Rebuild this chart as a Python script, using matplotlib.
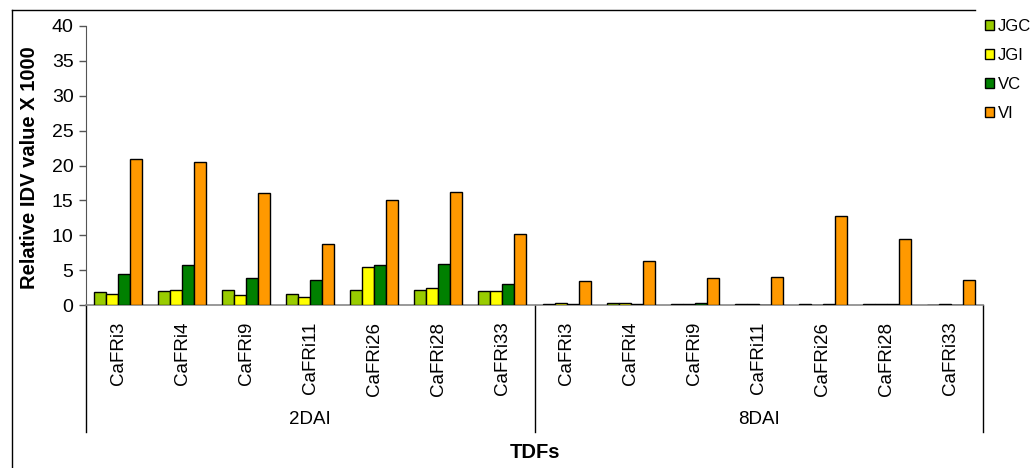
import numpy as np
import matplotlib
matplotlib.use('Agg')
import matplotlib.pyplot as plt
from matplotlib.lines import Line2D
from matplotlib.patches import Patch

plt.rcParams['font.family'] = ['Liberation Sans', 'DejaVu Sans']

# data
genes = ['CaFRi3', 'CaFRi4', 'CaFRi9', 'CaFRi11', 'CaFRi26', 'CaFRi28', 'CaFRi33']
groups = ['2DAI', '8DAI']
series = ['JGC', 'JGI', 'VC', 'VI']
colors = ['#99CC00', '#FFFF00', '#008000', '#FF9900']

jgc = [1.8, 2.0, 2.2, 1.6, 2.2, 2.2, 2.0,
       0.1, 0.35, 0.1, 0.1, 0.1, 0.1, 0.0]
jgi = [1.6, 2.2, 1.4, 1.2, 5.5, 2.4, 2.0,
       0.35, 0.35, 0.1, 0.1, 0.0, 0.1, 0.1]
vc = [4.5, 5.7, 3.8, 3.6, 5.7, 5.9, 3.0,
      0.1, 0.1, 0.3, 0.0, 0.1, 0.1, 0.0]
vi = [20.9, 20.5, 16.1, 8.8, 15.1, 16.2, 10.2,
      3.4, 6.3, 3.8, 4.0, 12.7, 9.4, 3.6]

W, H = 1030, 468
fig = plt.figure(figsize=(W / 100, H / 100), dpi=100)
ax = fig.add_axes([86 / W, 1 - 305 / H, (983 - 86) / W, (305 - 26) / H])

labels = genes * len(groups)
x = np.arange(len(labels))
bw = 0.1875
for i, (vals, c, name) in enumerate(zip([jgc, jgi, vc, vi], colors, series)):
    ax.bar(x + (i - 1.5) * bw, vals, bw, color=c, edgecolor='black',
           linewidth=1.0, label=name, zorder=3)

ax.set_xlim(-0.5, len(labels) - 0.5)
ax.set_ylim(0, 40)
ax.set_yticks(np.arange(0, 41, 5))
ax.tick_params(axis='y', labelsize=14, length=5, width=1, color='#555555', pad=4)
ax.set_xticks(x)
ax.set_xticklabels(labels, rotation=90, fontsize=13.5)
ax.tick_params(axis='x', length=0, pad=12)
for s in ['top', 'right']:
    ax.spines[s].set_visible(False)
ax.spines['left'].set_color('#555555')
ax.spines['bottom'].set_color('#888888')
ax.spines['bottom'].set_linewidth(1.2)

# group separators and group labels
tr = ax.get_xaxis_transform()
ybot = -(432 - 305) / (305 - 26)
for xs in [-0.5, len(genes) - 0.5, len(labels) - 0.5]:
    ax.add_line(Line2D([xs, xs], [0, ybot], transform=tr, color='black',
                       linewidth=1, clip_on=False))
ylab = -(420 - 305) / (305 - 26)
for k, g in enumerate(groups):
    ax.text(k * len(genes) + (len(genes) - 1) / 2, ylab, g, transform=tr,
            ha='center', va='center', fontsize=13.5)

fig.text(30 / W, 1 - 168 / H, 'Relative IDV value X 1000', rotation=90,
         ha='center', va='center', fontsize=14.5, fontweight='bold')
fig.text(535 / W, 1 - 453 / H, 'TDFs', ha='center', va='center',
         fontsize=14.5, fontweight='bold')

# outer chart border
fig.add_artist(Line2D([12 / W, 975 / W], [1 - 10 / H, 1 - 10 / H],
                      color='black', linewidth=1))
fig.add_artist(Line2D([12 / W, 12 / W], [1 - 10 / H, 0], color='black', linewidth=1))

handles = [Patch(facecolor=c, edgecolor='black', linewidth=1) for c in colors]
fig.legend(handles, series, loc='upper left', bbox_to_anchor=(978 / W, 1 - 12 / H),
           frameon=False, fontsize=12, handlelength=0.55, handleheight=0.55,
           handletextpad=0.25, labelspacing=0.85, borderaxespad=0)

fig.savefig('out.png', dpi=100)
